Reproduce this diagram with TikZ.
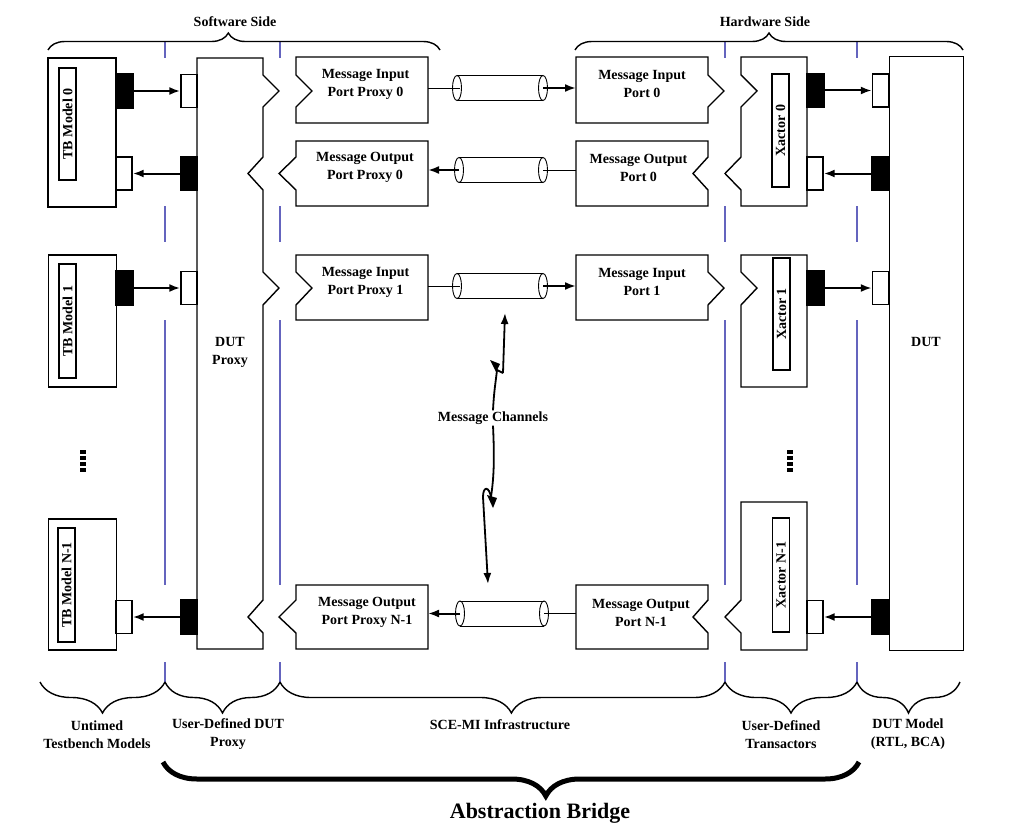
\documentclass[tikz,border=0pt]{standalone}
\usepackage{fontspec}
\setmainfont{Liberation Serif}
\usetikzlibrary{arrows.meta,decorations.pathreplacing,calc}
\definecolor{sepblue}{RGB}{100,100,190}
\newcommand\mychan[4]{%
  \coordinate (#1l) at (#2,#4);
  \coordinate (#1r) at (#3,#4);
  \draw[cyl] (#2,#4-12.5) -- (#3,#4-12.5) (#2,#4+12.5) -- (#3,#4+12.5);
  \draw[cyl] (#1l) ellipse [x radius=4.5pt,y radius=12.5pt];
  \draw[cyl] (#1r) ellipse [x radius=4.5pt,y radius=12.5pt];}
\begin{document}
\begin{tikzpicture}[x=1pt,y=-1pt,
  box/.style={draw,line width=1.4pt,fill=white},
  tbbox/.style={draw,line width=1.4pt,fill=white,inner sep=0pt,minimum width=68pt},
  wport/.style={draw,line width=1.4pt,fill=white,minimum width=16pt,minimum height=33pt,inner sep=0pt},
  bport/.style={draw,line width=1.4pt,fill=black,minimum width=17pt,minimum height=34pt,inner sep=0pt},
  lblbox/.style={draw,line width=1.2pt,rotate=90,minimum height=17pt,inner sep=0pt,font=\fontsize{14}{16}\selectfont\bfseries},
  arr/.style={line width=2pt,-{Latex[length=11pt,width=8pt]}},
  txt/.style={align=center,inner sep=1pt,font=\fontsize{14}{18}\selectfont\bfseries},
  sep/.style={draw=sepblue,line width=1.3pt},
  cyl/.style={line width=0.9pt},
  thinl/.style={line width=0.9pt},
  bolt/.style={line width=1.8pt},
  brc/.style={line width=1.4pt,decorate},
]
\useasboundingbox (0,0) rectangle (1020,832);

% separators
\foreach \x in {165,280,725,857}{
  \foreach \a/\b in {42/58,206/242,320/585,662/682}
    \draw[sep] (\x,\a) -- (\x,\b);
}

% top braces
\draw[brc,decoration={brace,amplitude=17pt,aspect=0.46}] (48,50) -- (440,50);
\draw[brc,decoration={brace,amplitude=17pt,aspect=0.5}] (575,50) -- (963,50);
\node[txt] (sws) at (235,22) {Software Side};
\node[txt] (hws) at (765,22) {Hardware Side};

% TB models
\node[tbbox,minimum height=149pt] (tb0) at (82,132.5) {};
\node[tbbox,minimum height=132pt] (tb1) at (82.5,321) {};
\node[tbbox,minimum height=131pt] (tbN) at (82.5,584.5) {};
\node[lblbox,minimum width=112pt] (tb0l) at (67.5,124) {TB Model 0};
\node[lblbox,minimum width=114pt] (tb1l) at (67.5,321) {TB Model 1};
\node[lblbox,minimum width=114pt] (tbNl) at (66.5,585) {TB Model N-1};

% DUT proxy
\draw[box] (197,58) -- (263,58) -- (263,75) -- (279,91) -- (263,107) -- (263,157)
  -- (248,173.5) -- (263,190) -- (263,272) -- (279,288) -- (263,305) -- (263,600)
  -- (248,617) -- (263,633) -- (263,649) -- (197,649) -- cycle;
\node[txt] (dpl) at (230,352) {DUT\\Proxy};

% message port proxies
\draw[box] (296,57) -- (428,57) -- (428,123) -- (296,123) -- (296,107) -- (312,91) -- (296,75) -- cycle;
\draw[box] (296,141) -- (428,141) -- (428,206) -- (296,206) -- (296,190) -- (279,173.5) -- (296,157) -- cycle;
\draw[box] (296,255) -- (428,255) -- (428,320) -- (296,320) -- (296,305) -- (312,288) -- (296,272) -- cycle;
\draw[box] (296,585) -- (428,585) -- (428,649) -- (296,649) -- (296,633) -- (279,617) -- (296,600) -- cycle;
\node[txt] (mipp0) at (365.5,84) {Message Input\\Port Proxy 0};
\node[txt] (mopp0) at (365,167.5) {Message Output\\Port Proxy 0};
\node[txt] (mipp1) at (365.5,282) {Message Input\\Port Proxy 1};
\node[txt] (moppN) at (367,612.5) {Message Output\\Port Proxy N-1};

% message ports
\draw[box] (576,57) -- (708,57) -- (708,75) -- (724,91) -- (708,107) -- (708,123) -- (576,123) -- cycle;
\draw[box] (576,141) -- (708,141) -- (708,157) -- (693,173.5) -- (708,190) -- (708,206) -- (576,206) -- cycle;
\draw[box] (576,255) -- (708,255) -- (708,272) -- (724,288) -- (708,305) -- (708,320) -- (576,320) -- cycle;
\draw[box] (576,585) -- (708,585) -- (708,600) -- (693,617) -- (708,633) -- (708,649) -- (576,649) -- cycle;
\node[txt] (mip0) at (642,84) {Message Input\\Port 0};
\node[txt] (mop0) at (638.5,167.5) {Message Output\\Port 0};
\node[txt] (mip1) at (642,282) {Message Input\\Port 1};
\node[txt] (mopN) at (641,612.5) {Message Output\\Port N-1};

% Xactors
\draw[box] (741,57) -- (807,57) -- (807,206) -- (741,206) -- (741,190) -- (725,173.5)
  -- (741,157) -- (741,107) -- (757,91) -- (741,75) -- cycle;
\draw[box] (741,255) -- (807,255) -- (807,387) -- (741,387) -- (741,305) -- (757,288) -- (741,272) -- cycle;
\draw[box] (741,502) -- (807,502) -- (807,650) -- (741,650) -- (741,633) -- (725,617) -- (741,600) -- cycle;
\node[lblbox,minimum width=113pt] (xa0l) at (780.5,130.5) {Xactor 0};
\node[lblbox,minimum width=112pt] (xa1l) at (781.5,314) {Xactor 1};
\node[lblbox,minimum width=114pt] (xaNl) at (781,575) {Xactor N-1};

% DUT
\node[draw,line width=1pt,fill=white,minimum width=74pt,minimum height=593pt,inner sep=0pt] (dut) at (926,353.5) {};
\node[txt] (dutl) at (926,342) {DUT};

% dots
\foreach \k in {0,...,3}{
  \fill (80,450+\k*6) rectangle ++(6,4.2);
  \fill (787,450+\k*6) rectangle ++(6,4.2);
}

% ports
\node[bport] (tb0o) at (124.5,91) {};
\node[wport] (dp0i) at (189,91) {};
\node[bport] (dp0o) at (189,173.5) {};
\node[wport] (tb0i) at (124,173.5) {};
\node[bport] (tb1o) at (124.5,288) {};
\node[wport] (dp1i) at (189,288) {};
\node[bport] (dpNo) at (189,617) {};
\node[wport] (tbNi) at (124,617) {};
\node[bport] (xa0o) at (815.5,90.5) {};
\node[wport] (dut0i) at (880.5,90.5) {};
\node[bport] (dut0o) at (880.5,173.5) {};
\node[wport] (xa0i) at (815,173.5) {};
\node[bport] (xa1o) at (815.5,288) {};
\node[wport] (dut1i) at (880.5,288) {};
\node[bport] (dutNo) at (880.5,617) {};
\node[wport] (xaNi) at (815,617) {};

\draw[arr] (tb0o) -- (dp0i);
\draw[arr] (dp0o) -- (tb0i);
\draw[arr] (tb1o) -- (dp1i);
\draw[arr] (dpNo) -- (tbNi);
\draw[arr] (xa0o) -- (dut0i);
\draw[arr] (dut0o) -- (xa0i);
\draw[arr] (xa1o) -- (dut1i);
\draw[arr] (dutNo) -- (xaNi);

% channels
\mychan{ca}{457}{543}{88}
\mychan{cb}{459}{543}{170}
\mychan{cc}{457}{543}{286}
\mychan{cd}{460}{544}{613.5}
\coordinate (mipp0e) at (428,88);
\coordinate (mip0w) at (576,88);
\coordinate (mopp0e) at (428,170);
\coordinate (mop0w) at (576,170);
\coordinate (mipp1e) at (428,286);
\coordinate (mip1w) at (576,286);
\coordinate (moppNe) at (428,613.5);
\coordinate (mopNw) at (576,613.5);
\draw[thinl] (mipp0e) -- ($(cal)+(3,0)$);
\draw[arr] (car) -- (mip0w);
\draw[thinl] (mop0w) -- (cbr);
\draw[arr] (cbl) -- (mopp0e);
\draw[thinl] (mipp1e) -- ($(ccl)+(3,0)$);
\draw[arr] (ccr) -- (mip1w);
\draw[thinl] (mopNw) -- (cdr);
\draw[arr] (cdl) -- (moppNe);

% message channels label and bolts
\node[txt] (mc) at (493,418) {Message Channels};
\coordinate (mcup) at (505,313);
\coordinate (mcdn) at (488,584);
\draw[bolt] (mc.north) .. controls (494,390) and (496,380) .. (497,370) -- (503,373);
\draw[bolt,-{Latex[length=11pt,width=8pt]}] (503,373) -- (mcup);
\fill (490,360) -- (500,364) -- (496,372) -- cycle;
\draw[bolt] (mc.south) .. controls (495,468) and (493,482) .. (491,497);
\draw[bolt] (491,497) .. controls (489,486) and (483,486) .. (483,497);
\fill (487,495) -- (497,498) -- (493,508) -- cycle;
\draw[bolt,-{Latex[length=11pt,width=8pt]}] (483,497) -- (mcdn);

% bottom braces
\draw[brc,decoration={brace,mirror,amplitude=31pt,aspect=0.5}] (40,682) -- (165,682);
\draw[brc,decoration={brace,mirror,amplitude=31pt,aspect=0.5}] (165,682) -- (280,682);
\draw[brc,decoration={brace,mirror,amplitude=31pt,aspect=0.52}] (280,682) -- (725,682);
\draw[brc,decoration={brace,mirror,amplitude=31pt,aspect=0.5}] (725,682) -- (857,682);
\draw[brc,decoration={brace,mirror,amplitude=31pt,aspect=0.5}] (857,682) -- (960,682);
\node[txt] (bl1) at (97,734.5) {Untimed\\Testbench Models};
\node[txt] (bl2) at (228,734.5) {User-Defined DUT\\Proxy};
\node[txt] (bl3) at (500,725) {SCE-MI Infrastructure};
\node[txt] (bl4) at (781,734.5) {User-Defined\\Transactors};
\node[txt] (bl5) at (908,734.5) {DUT Model\\(RTL, BCA)};

% abstraction bridge
\draw[line width=5pt,decorate,decoration={brace,mirror,amplitude=34pt,aspect=0.55}] (163,762) -- (859,762);
\node[txt,font=\fontsize{22}{26}\selectfont\bfseries] (ab) at (540,813) {Abstraction Bridge};
\end{tikzpicture}
\end{document}
